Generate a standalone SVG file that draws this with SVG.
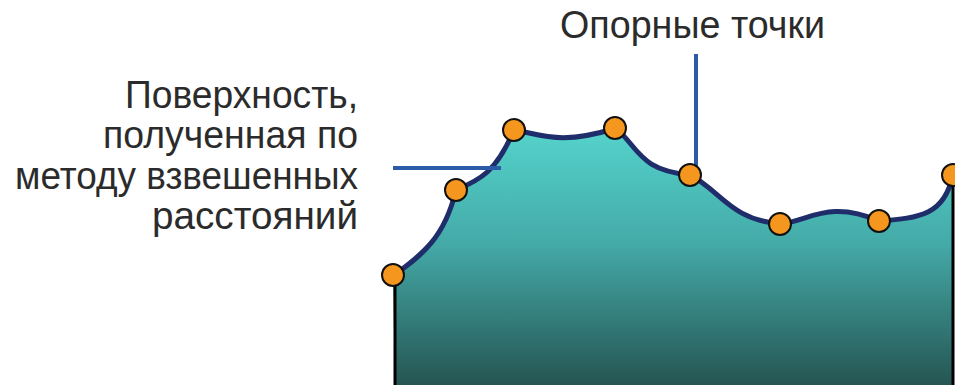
<svg xmlns="http://www.w3.org/2000/svg" width="955" height="385" viewBox="0 0 955 385">
<style>
.lbl{font-family:"Liberation Sans","DejaVu Sans",sans-serif;font-size:38px;fill:#2b2b2b}
.pt{fill:#f5961e;stroke:#111;stroke-width:2}
.lead{stroke:#2b5aa8;stroke-width:4;fill:none}
</style>
<defs>
<linearGradient id="g" x1="0" y1="0" x2="0" y2="1" gradientUnits="objectBoundingBox">
<stop offset="0" stop-color="#55d3cc"/>
<stop offset="0.45" stop-color="#44aaa8"/>
<stop offset="1" stop-color="#255552"/>
</linearGradient>
</defs>
<g id="surface">
<path d="M393,276 C420,256 444,240 456,190 C480,180 496,172 514,130 C540,134 560,146 616,128 C640,150 640,170 690,175 C720,190 730,220 781,224 C810,220 830,200 879,221 C920,218 945,215 953,174 L953,385 L395,385 Z" fill="url(#g)"/>
<path d="M393,276 C420,256 444,240 456,190 C480,180 496,172 514,130 C540,134 560,146 616,128 C640,150 640,170 690,175 C720,190 730,220 781,224 C810,220 830,200 879,221 C920,218 945,215 953,174" fill="none" stroke="#1f2d6b" stroke-width="5"/>
<line x1="395" y1="276" x2="395" y2="385" stroke="#000" stroke-width="3"/>
<line x1="953" y1="174" x2="953" y2="385" stroke="#000" stroke-width="3"/>
</g>
<g id="connectors">
<line class="lead" x1="393" y1="168" x2="501" y2="168"/>
<line class="lead" x1="696" y1="54" x2="696" y2="172"/>
</g>
<g id="points">
<circle class="pt" cx="393" cy="275" r="11"/>
<circle class="pt" cx="456" cy="190" r="11"/>
<circle class="pt" cx="514" cy="130" r="11"/>
<circle class="pt" cx="615" cy="128" r="11"/>
<circle class="pt" cx="690" cy="175" r="11"/>
<circle class="pt" cx="780" cy="224" r="11"/>
<circle class="pt" cx="879" cy="221" r="11"/>
<circle class="pt" cx="953" cy="175" r="11"/>
</g>
<g id="label-surface">
<text class="lbl" text-anchor="end" x="358" y="108" textLength="233" lengthAdjust="spacingAndGlyphs">Поверхность,</text>
<text class="lbl" text-anchor="end" x="358" y="148" textLength="255" lengthAdjust="spacingAndGlyphs">полученная по</text>
<text class="lbl" text-anchor="end" x="358" y="189" textLength="343" lengthAdjust="spacingAndGlyphs">методу взвешенных</text>
<text class="lbl" text-anchor="end" x="358" y="229" textLength="206" lengthAdjust="spacingAndGlyphs">расстояний</text>
</g>
<g id="label-points">
<text class="lbl" x="560" y="38" textLength="265" lengthAdjust="spacingAndGlyphs">Опорные точки</text>
</g>
</svg>
